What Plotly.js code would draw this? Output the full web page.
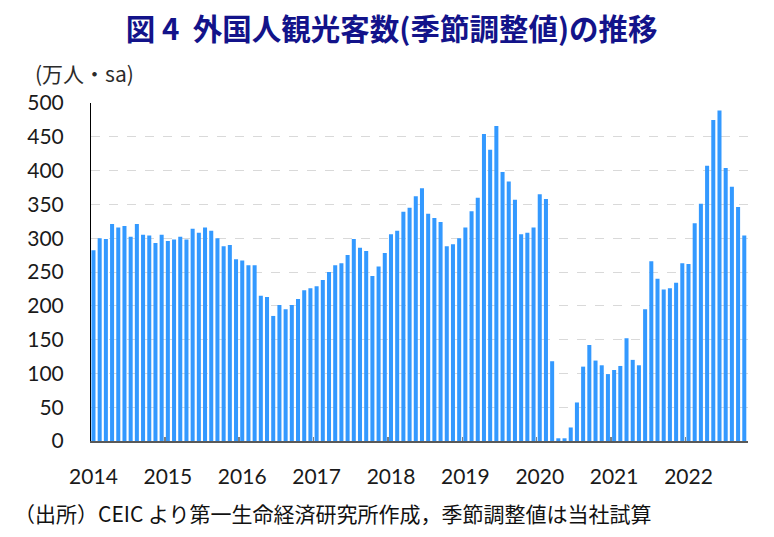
<!DOCTYPE html>
<html>
<head>
<meta charset="utf-8">
<script src="https://cdn.plot.ly/plotly-3.0.1.min.js"></script>
<style>
  html, body { margin: 0; padding: 0; background: #ffffff; }
  #chart { width: 774px; height: 537px; }
</style>
</head>
<body>
<div id="chart"></div>
<script>
// Foreign visitor arrivals, seasonally adjusted (10k persons), monthly
const years = ['2014', '2015', '2016', '2017', '2018', '2019', '2020', '2021', '2022'];
const v2014 = [282, 300, 299, 321, 316, 318, 302, 321, 305, 304, 293, 305];
const v2015 = [296, 298, 302, 298, 314, 308, 316, 311, 300, 288, 290, 269];
const v2016 = [267, 260, 260, 215, 213, 185, 201, 195, 201, 210, 223, 226];
const v2017 = [229, 238, 250, 260, 263, 275, 299, 286, 281, 244, 258, 278];
const v2018 = [306, 311, 339, 345, 362, 374, 336, 330, 324, 288, 291, 300];
const v2019 = [316, 340, 360, 454, 431, 466, 398, 384, 357, 306, 308, 316];
const v2020 = [365, 358, 118, 4, 4, 20, 57, 110, 142, 119, 112, 99];
const v2021 = [105, 111, 152, 120, 112, 195, 266, 240, 224, 226, 234, 263];
const v2022 = [262, 322, 351, 407, 475, 489, 404, 376, 346, 304];

const yTicks = [0, 50, 100, 150, 200, 250, 300, 350, 400, 450, 500];

const visitors = [].concat(v2014, v2015, v2016, v2017, v2018, v2019, v2020, v2021, v2022);
const monthIndex = visitors.map((_, i) => i);
const yearStart = years.map((_, i) => i * 12);

const labelFont = { family: 'Lato, "Liberation Sans", sans-serif', size: 21, color: '#1a1a1a' };
const cjk = '"Noto Sans CJK JP", "Noto Sans", sans-serif';

const trace = {
  type: 'bar',
  x: monthIndex,
  y: visitors,
  marker: { color: '#3399ff', line: { width: 0 } },
  hoverinfo: 'y'
};

const layout = {
  width: 774,
  height: 537,
  paper_bgcolor: '#ffffff',
  plot_bgcolor: '#ffffff',
  margin: { l: 91, r: 26, t: 103, b: 96 },
  showlegend: false,
  bargap: 0.35,
  title: {
    text: '<b>図 4&nbsp;&nbsp;外国人観光客数(季節調整値)の推移</b>',
    font: { family: cjk, size: 29.5, color: '#13138a' },
    xref: 'container', x: 0.506, xanchor: 'center',
    yref: 'container', y: 0.944, yanchor: 'middle'
  },
  xaxis: {
    range: [-0.4, 105.6],
    tickmode: 'array',
    tickvals: yearStart,
    ticktext: years,
    ticks: '',
    ticklabelstandoff: 16,
    tickfont: labelFont,
    showgrid: false,
    zeroline: false,
    showline: true,
    linecolor: '#595959',
    linewidth: 2,
    minor: {
      tickmode: 'linear',
      tick0: -0.5,
      dtick: 12,
      ticks: 'inside',
      ticklen: 4,
      tickwidth: 1.5,
      tickcolor: '#7f7f7f',
      showgrid: false
    },
    fixedrange: true
  },
  yaxis: {
    range: [0, 500],
    tickmode: 'array',
    tickvals: yTicks,
    ticks: '',
    ticklabelstandoff: 22,
    tickfont: labelFont,
    showgrid: true,
    gridcolor: '#d9d9d9',
    griddash: 'dash',
    gridwidth: 1,
    zeroline: false,
    showline: true,
    linecolor: '#000000',
    linewidth: 1,
    fixedrange: true
  },
  annotations: [
    {
      text: '(万人・sa)',
      xref: 'paper', yref: 'paper',
      x: -0.088, y: 1.089,
      xanchor: 'left', yanchor: 'middle',
      showarrow: false,
      font: { family: cjk, size: 21, color: '#2b2b2b' }
    },
    {
      text: '（出所）CEIC より第一生命経済研究所作成，季節調整値は当社試算',
      xref: 'paper', yref: 'paper',
      x: -0.12, y: -0.213,
      xanchor: 'left', yanchor: 'middle',
      showarrow: false,
      font: { family: cjk, size: 21, color: '#111111' }
    }
  ]
};

Plotly.newPlot('chart', [trace], layout, { displayModeBar: false, staticPlot: true });
</script>
</body>
</html>
